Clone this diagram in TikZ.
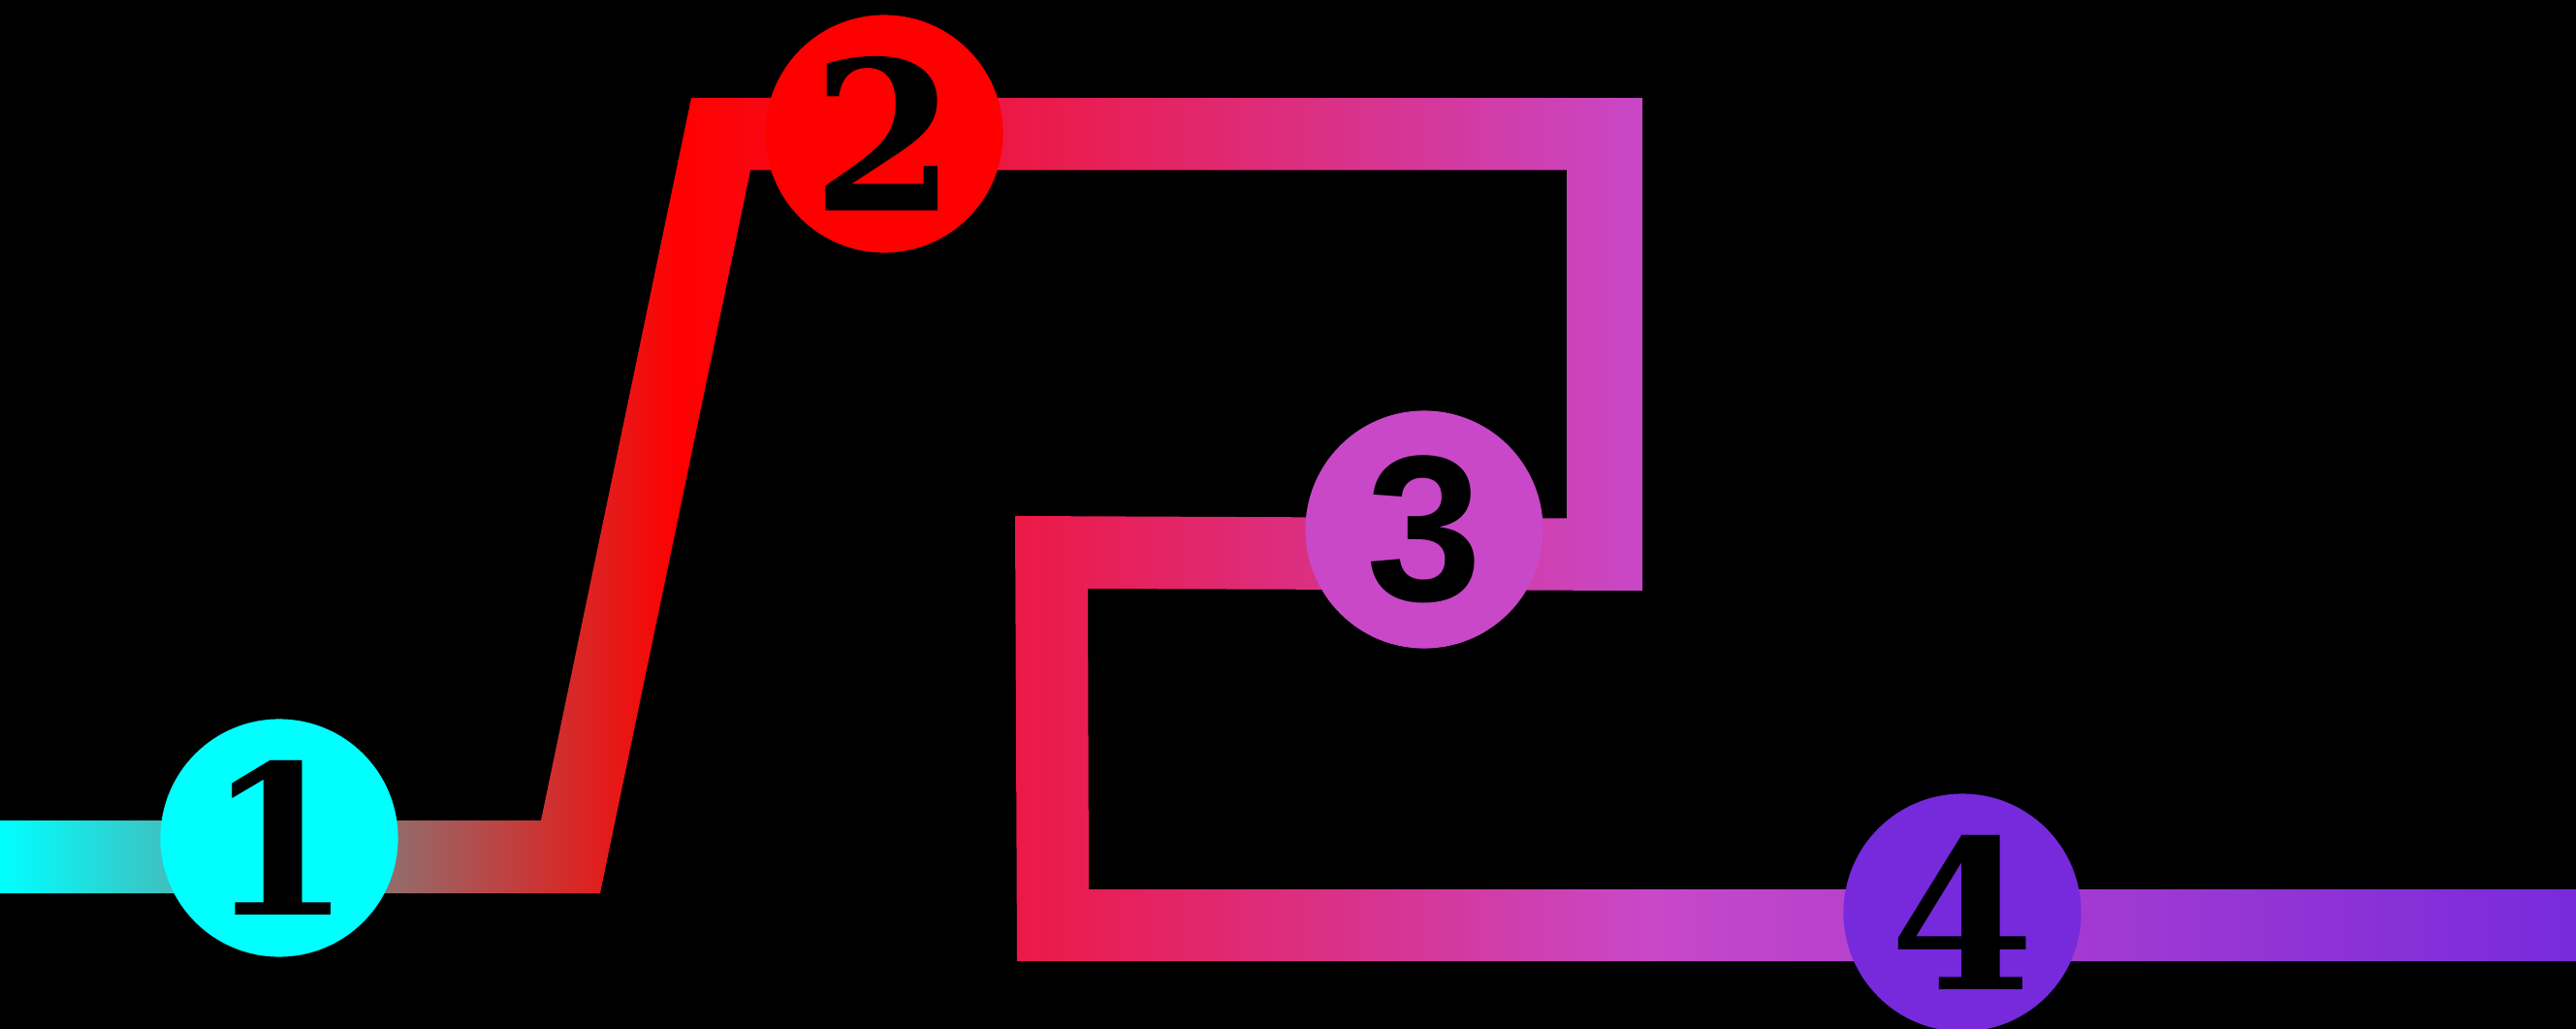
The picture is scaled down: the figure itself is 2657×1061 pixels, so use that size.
\documentclass[tikz,border=0pt]{standalone}
\usepackage{fontspec}
\newfontfamily\slabfont{DejaVu Serif}
\newfontfamily\grotfont{Liberation Sans}

\definecolor{tealcyan}{RGB}{0,255,255}
\definecolor{hotred}{RGB}{255,0,0}
\definecolor{orchidpink}{RGB}{200,72,200}
\definecolor{deeppurple}{RGB}{118,42,220}

\tikzset{
  station/.style={circle, minimum size=2.45cm, inner sep=0pt, text=black,
    font=\fontsize{61}{61}\selectfont\bfseries},
}

\begin{document}
\begin{tikzpicture}[x=0.01cm, y=-0.01cm]
  \useasboundingbox (0,0) rectangle (2657,1061);
  \clip (0,0) rectangle (2657,1061);
  \fill[black] (0,0) rectangle (2657,1061);

  % the route, shaded left to right
  \begin{scope}
    \clip (-20,846) -- (558,846) -- (713,101) -- (1694,101) -- (1694,609)
      -- (1122,607) -- (1123,917) -- (2680,917) -- (2680,991) -- (1049,991)
      -- (1047,532) -- (1616,534.5) -- (1616,175.5) -- (774,175.5)
      -- (619,921) -- (-20,921) -- cycle;
    \shade[left color=tealcyan, right color=hotred] (0,0) rectangle (700,1061);
    \shade[left color=hotred, right color=orchidpink] (699,0) rectangle (1700,1061);
    \shade[left color=orchidpink, right color=deeppurple] (1699,0) rectangle (2680,1061);
  \end{scope}

  \node[station, fill=tealcyan] (one) at (288,864) {\slabfont 1};
  \node[station, fill=hotred] (two) at (912,138) {\slabfont 2};
  \node[station, fill=orchidpink] (three) at (1469,546) {\grotfont 3};
  \node[station, fill=deeppurple] (four) at (2024,941) {\slabfont 4};
\end{tikzpicture}
\end{document}
